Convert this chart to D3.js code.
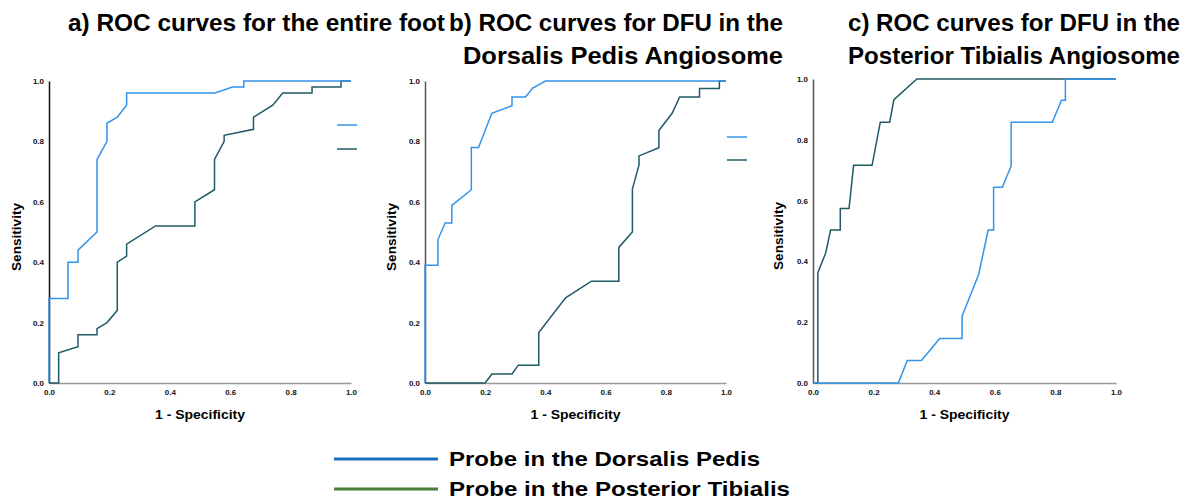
<!DOCTYPE html>
<html>
<head>
<meta charset="utf-8">
<script src="https://cdn.jsdelivr.net/npm/d3@7"></script>
<style>
  body { margin: 0; background: #fff; }
  svg { font-family: "Liberation Sans", Arial, sans-serif; }
</style>
</head>
<body>
<svg></svg>
<script>
// ROC points, [1 - specificity, sensitivity]
let footDP = [[0,0],[0,0.28],[0.063,0.28],[0.063,0.40],[0.096,0.40],[0.096,0.44],[0.159,0.50],[0.159,0.74],[0.192,0.80],[0.192,0.86],[0.226,0.88],[0.257,0.92],[0.257,0.96],[0.55,0.96],[0.607,0.98],[0.645,0.98],[0.645,1],[1,1]]
let footPT = [[0,0],[0.032,0],[0.032,0.10],[0.096,0.12],[0.096,0.16],[0.159,0.16],[0.159,0.18],[0.192,0.20],[0.226,0.24],[0.226,0.40],[0.257,0.42],[0.257,0.46],[0.353,0.52],[0.483,0.52],[0.483,0.60],[0.548,0.64],[0.548,0.74],[0.58,0.80],[0.58,0.82],[0.677,0.84],[0.677,0.88],[0.741,0.92],[0.774,0.96],[0.871,0.96],[0.871,0.98],[0.967,0.98],[0.967,1],[1,1]]

let dpDP = [[0,0],[0,0.39],[0.043,0.39],[0.043,0.475],[0.067,0.53],[0.089,0.53],[0.089,0.588],[0.154,0.64],[0.154,0.78],[0.178,0.78],[0.222,0.893],[0.289,0.918],[0.289,0.947],[0.334,0.947],[0.357,0.976],[0.40,1],[1,1]]
let dpPT = [[0,0],[0.20,0],[0.222,0.03],[0.289,0.03],[0.31,0.059],[0.378,0.059],[0.378,0.167],[0.467,0.282],[0.553,0.337],[0.644,0.337],[0.644,0.449],[0.689,0.50],[0.689,0.642],[0.711,0.722],[0.711,0.752],[0.777,0.779],[0.777,0.836],[0.821,0.893],[0.846,0.947],[0.912,0.947],[0.912,0.975],[0.978,0.975],[0.978,1],[1,1]]

let ptDP = [[0,0],[0.282,0],[0.311,0.074],[0.358,0.074],[0.418,0.146],[0.492,0.146],[0.492,0.22],[0.547,0.358],[0.578,0.503],[0.596,0.503],[0.596,0.644],[0.625,0.644],[0.654,0.714],[0.654,0.858],[0.79,0.858],[0.82,0.93],[0.833,0.93],[0.833,1],[1,1]]
let ptPT = [[0,0],[0.016,0],[0.016,0.363],[0.042,0.428],[0.058,0.503],[0.09,0.503],[0.09,0.574],[0.119,0.574],[0.134,0.716],[0.195,0.716],[0.222,0.858],[0.253,0.858],[0.267,0.932],[0.343,1],[1,1]]

let ticks = [0, 0.2, 0.4, 0.6, 0.8, 1.0]
let legendLabels = ['Probe in the Dorsalis Pedis', 'Probe in the Posterior Tibialis']

let width = 1184
let height = 500

let lightBlue = '#3393e8'
let darkTeal = '#1f5a66'

let panels = [
    {left: 49, right: 351, top: 81, bottom: 383, axisColor: '#111', ylabX: 17,
     curves: [footDP, footPT], legend: [337, 357, 125, 149]},
    {left: 425, right: 726, top: 81, bottom: 383, axisColor: '#555', ylabX: 392,
     curves: [dpDP, dpPT], legend: [727, 747, 137, 160]},
    {left: 813, right: 1116, top: 79, bottom: 383, axisColor: '#555', ylabX: 779,
     curves: [ptDP, ptPT], legend: null}
]

let svg = d3.select('svg')
    .attr('width', width)
    .attr('height', height)

let drawPanel = (p) => {
    let xScale = d3.scaleLinear().domain([0, 1]).range([p.left, p.right])
    let yScale = d3.scaleLinear().domain([0, 1]).range([p.bottom, p.top])

    let xAxis = d3.axisBottom(xScale).tickValues(ticks).tickFormat(d3.format('.1f')).tickSize(0).tickPadding(6)
    let yAxis = d3.axisLeft(yScale).tickValues(ticks).tickFormat(d3.format('.1f')).tickSize(0).tickPadding(5)

    let gx = svg.append('g')
       .attr('transform', 'translate(0, ' + p.bottom + ')')
       .call(xAxis)
    gx.select('.domain').attr('stroke', '#999').attr('stroke-width', 1.5)

    let gy = svg.append('g')
       .attr('transform', 'translate(' + p.left + ', 0)')
       .call(yAxis)
    gy.select('.domain').attr('stroke', p.axisColor).attr('stroke-width', 1.5)

    svg.selectAll('.tick text')
       .attr('font-size', 8)
       .attr('font-weight', 'bold')
       .attr('fill', '#111')

    let line = d3.line().x(d => xScale(d[0])).y(d => yScale(d[1]))

    svg.append('path')
       .datum(p.curves[1])
       .attr('d', line)
       .attr('fill', 'none')
       .attr('stroke', darkTeal)
       .attr('stroke-width', 1.5)

    svg.append('path')
       .datum(p.curves[0])
       .attr('d', line)
       .attr('fill', 'none')
       .attr('stroke', lightBlue)
       .attr('stroke-width', 1.5)

    let cy = (p.top + p.bottom) / 2 + 5
    svg.append('text')
       .attr('x', p.ylabX)
       .attr('y', cy)
       .attr('transform', 'rotate(-90 ' + p.ylabX + ' ' + cy + ')')
       .attr('text-anchor', 'middle')
       .attr('dominant-baseline', 'central')
       .attr('font-size', 12)
       .attr('font-weight', 'bold')
       .attr('textLength', 68)
       .attr('lengthAdjust', 'spacingAndGlyphs')
       .text('Sensitivity')

    svg.append('text')
       .attr('x', (p.left + p.right) / 2)
       .attr('y', 419)
       .attr('text-anchor', 'middle')
       .attr('font-size', 13)
       .attr('font-weight', 'bold')
       .attr('textLength', 90)
       .attr('lengthAdjust', 'spacingAndGlyphs')
       .text('1 - Specificity')

    if (p.legend) {
        let l = p.legend
        svg.append('line').attr('x1', l[0]).attr('x2', l[1]).attr('y1', l[2]).attr('y2', l[2])
           .attr('stroke', lightBlue).attr('stroke-width', 1.5)
        svg.append('line').attr('x1', l[0]).attr('x2', l[1]).attr('y1', l[3]).attr('y2', l[3])
           .attr('stroke', darkTeal).attr('stroke-width', 1.5)
    }
}

panels.forEach(drawPanel)

// panel titles
let titles = [
    {x: 68, y: 31, len: 377, anchor: 'start', text: 'a) ROC curves for the entire foot'},
    {x: 449, y: 31, len: 334, anchor: 'start', text: 'b) ROC curves for DFU in the'},
    {x: 783, y: 64, len: 320, anchor: 'end', text: 'Dorsalis Pedis Angiosome'},
    {x: 1180, y: 31, len: 332, anchor: 'end', text: 'c) ROC curves for DFU in the'},
    {x: 1180, y: 64, len: 332, anchor: 'end', text: 'Posterior Tibialis Angiosome'}
]

svg.selectAll('.title')
   .data(titles)
   .enter()
   .append('text')
   .attr('class', 'title')
   .attr('x', d => d.x)
   .attr('y', d => d.y)
   .attr('text-anchor', d => d.anchor)
   .attr('font-size', 23)
   .attr('font-weight', 'bold')
   .attr('textLength', d => d.len)
   .attr('lengthAdjust', 'spacingAndGlyphs')
   .text(d => d.text)

// bottom legend
let legendColors = ['#1b6fc1', '#4a7d35']
let legendLens = [311, 341]
let legend = svg.selectAll('.leg')
   .data(legendLabels)
   .enter()
   .append('g')
   .attr('class', 'leg')
   .attr('transform', (d, i) => 'translate(0, ' + (459 + i * 30) + ')')

legend.append('line')
   .attr('x1', 334).attr('x2', 438).attr('y1', 0).attr('y2', 0)
   .attr('stroke', (d, i) => legendColors[i])
   .attr('stroke-width', 3)

legend.append('text')
   .attr('x', 449)
   .attr('y', 7)
   .attr('font-size', 21)
   .attr('font-weight', 'bold')
   .attr('textLength', (d, i) => legendLens[i])
   .attr('lengthAdjust', 'spacingAndGlyphs')
   .text(d => d)
</script>
</body>
</html>
